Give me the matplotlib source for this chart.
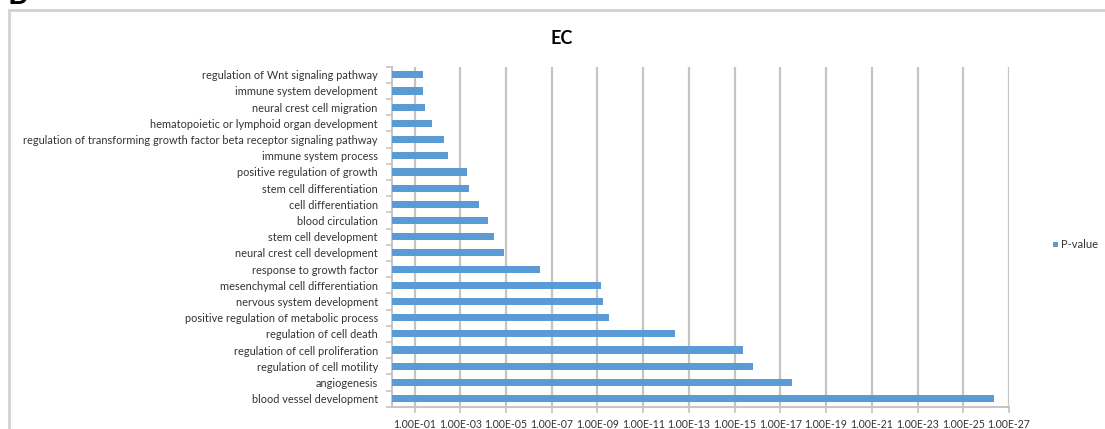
import matplotlib
matplotlib.use("Agg")
import matplotlib.pyplot as plt
from matplotlib.patches import Rectangle
from matplotlib.ticker import FixedLocator, FuncFormatter, NullFormatter
import numpy as np

# GO terms, listed top to bottom
terms = [
    "regulation of Wnt signaling pathway",
    "immune system development",
    "neural crest cell migration",
    "hematopoietic or lymphoid organ development",
    "regulation of transforming growth factor beta receptor signaling pathway",
    "immune system process",
    "positive regulation of growth",
    "stem cell differentiation",
    "cell differentiation",
    "blood circulation",
    "stem cell development",
    "neural crest cell development",
    "response to growth factor",
    "mesenchymal cell differentiation",
    "nervous system development",
    "positive regulation of metabolic process",
    "regulation of cell death",
    "regulation of cell proliferation",
    "regulation of cell motility",
    "angiogenesis",
    "blood vessel development",
]

p_values = [
    4.3e-2, 4.3e-2, 3.6e-2, 1.7e-2, 5.0e-3, 3.5e-3,
    4.9e-4, 4.2e-4, 1.5e-4, 6.2e-5, 3.2e-5, 1.2e-5,
    3.3e-7, 7.2e-10, 6.0e-10, 3.2e-10,
    4.0e-13, 4.4e-16, 1.55e-16, 3.2e-18, 4.6e-27,
]

tick_exponents = [-1, -3, -5, -7, -9, -11, -13, -15, -17, -19, -21, -23, -25, -27]

series_name = "P-value"
title = "EC"

BAR = "#5b9bd5"
GRID = "#c4c4c4"
TEXT = "#333333"

plt.rcParams["font.family"] = ["Lato", "DejaVu Sans"]

fig = plt.figure(figsize=(11.05, 4.29), dpi=100)
W, H = 1105, 429

# outer chart frame
fig.patches.append(Rectangle((9 / W, -0.05), 1.2, (H - 10) / H + 0.05,
                             transform=fig.transFigure, fill=False,
                             edgecolor="#d2d2d2", linewidth=2.0))
# panel letter at the very top edge
fig.text(8 / W, (H - 4) / H, "B", fontsize=22, fontweight="bold",
         color="black", va="baseline", ha="left")

ax = fig.add_axes([391.7 / W, 22.3 / H, 617.3 / W, 340.0 / H])

y = np.arange(len(terms))
pv = np.array(p_values)
# each bar runs from p up to 1 on the reversed log axis
ax.barh(y, 1.0 - pv, left=pv, height=0.44, color=BAR, zorder=3)

ax.set_xscale("log")
ax.set_xlim(1.0, 1e-27)
ax.set_ylim(len(terms) - 0.5, -0.5)

ticks = [10.0 ** e for e in tick_exponents]
ax.xaxis.set_major_locator(FixedLocator(ticks))
ax.xaxis.set_minor_locator(FixedLocator([]))
ax.xaxis.set_major_formatter(FuncFormatter(lambda v, _: "1.00E-%02d" % round(-np.log10(v))))
ax.grid(axis="x", which="major", color=GRID, linewidth=1.6, zorder=0)

ax.set_yticks(y)
ax.set_yticklabels(terms)
ax.yaxis.set_minor_locator(FixedLocator(np.arange(-0.5, len(terms), 1.0)))
ax.yaxis.set_minor_formatter(NullFormatter())
ax.tick_params(axis="y", which="major", length=0, pad=10, labelsize=7.9, labelcolor=TEXT)
ax.tick_params(axis="y", which="minor", length=4, width=1.2, color=GRID)
ax.tick_params(axis="x", which="major", length=4, width=1.2, color=GRID,
               labelsize=7.6, labelcolor=TEXT, pad=5)

for side in ("top", "right"):
    ax.spines[side].set_visible(False)
for side in ("left", "bottom"):
    ax.spines[side].set_color(GRID)
    ax.spines[side].set_linewidth(1.4)

fig.text(561.5 / W, (H - 38) / H, title, fontsize=13, fontweight="bold",
         color="black", ha="center", va="center")

# legend
fig.patches.append(Rectangle((1053 / W, (H - 247) / H), 5 / W, 5 / H,
                             transform=fig.transFigure, facecolor=BAR, edgecolor="none"))
fig.text(1061 / W, (H - 245) / H, series_name, fontsize=8, color=TEXT,
         ha="left", va="center")

fig.savefig("out.png", dpi=100)
